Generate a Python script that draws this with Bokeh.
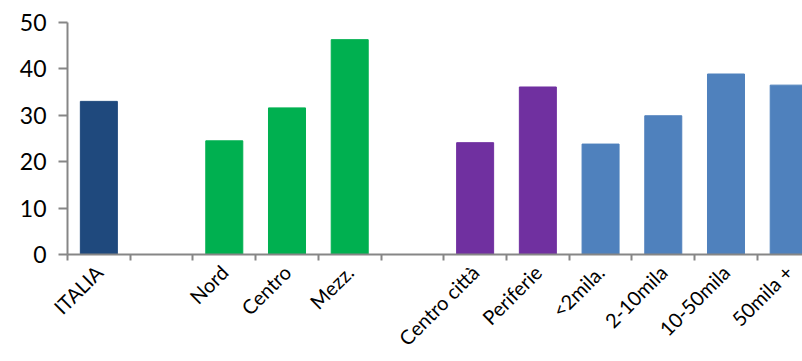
import math
from bokeh.plotting import figure
from bokeh.models import ColumnDataSource, FixedTicker, LinearAxis
from bokeh.embed import file_html
from bokeh.resources import INLINE

# Category slots along the x axis (empty strings are spacer slots)
categories = ["ITALIA", "", "Nord", "Centro", "Mezz.", "",
              "Centro città", "Periferie", "<2mila.", "2-10mila", "10-50mila", "50mila +"]
values = [33.0, None, 24.5, 31.6, 46.3, None, 24.1, 36.1, 23.8, 29.9, 38.9, 36.5]
groups = ["tot", None, "area", "area", "area", None,
          "zona", "zona", "comune", "comune", "comune", "comune"]
group_colors = {"tot": "#1F497D", "area": "#00B050", "zona": "#7030A0", "comune": "#4F81BD"}

xs, tops, cols = [], [], []
for i, (v, g) in enumerate(zip(values, groups)):
    if v is None:
        continue
    xs.append(i + 0.5)
    tops.append(v)
    cols.append(group_colors[g])
src = ColumnDataSource(dict(x=xs, top=tops, color=cols))

p = figure(width=802, height=361, output_backend="svg", toolbar_location=None,
           x_range=(0, 11.72), y_range=(0, 50),
           min_border_left=67, min_border_right=0, min_border_top=22, min_border_bottom=107,
           x_axis_location=None, y_axis_location=None)
p.outline_line_color = None
p.grid.grid_line_color = None
p.background_fill_color = "white"
p.border_fill_color = "white"

p.vbar(x="x", top="top", width=0.59, color="color", source=src)

axis_color = "#868686"
font = "Lato"

yaxis = LinearAxis(ticker=FixedTicker(ticks=[0, 10, 20, 30, 40, 50]))
yaxis.axis_line_color = axis_color
yaxis.axis_line_width = 2
yaxis.major_tick_line_color = axis_color
yaxis.major_tick_line_width = 2
yaxis.major_tick_out = 9
yaxis.major_tick_in = 0
yaxis.minor_tick_line_color = None
yaxis.major_label_text_font = font
yaxis.major_label_text_font_size = "23px"
yaxis.major_label_text_color = "#000000"
yaxis.major_label_standoff = 12
p.add_layout(yaxis, "left")

# x axis: labels at slot centres, tick marks on the slot boundaries
centers = [i + 0.5 for i in range(len(categories))]
bounds = list(range(len(categories) + 1))
xaxis = LinearAxis(ticker=FixedTicker(ticks=centers, minor_ticks=bounds))
xaxis.major_label_overrides = {c: lab for c, lab in zip(centers, categories)}
xaxis.axis_line_color = axis_color
xaxis.axis_line_width = 2
xaxis.major_tick_line_color = None
xaxis.major_tick_out = 0
xaxis.major_tick_in = 0
xaxis.minor_tick_line_color = axis_color
xaxis.minor_tick_line_width = 2
xaxis.minor_tick_out = 6
xaxis.minor_tick_in = 0
xaxis.major_label_orientation = math.pi / 4
xaxis.major_label_text_font = font
xaxis.major_label_text_font_size = "20px"
xaxis.major_label_text_color = "#000000"
xaxis.major_label_standoff = 8
p.add_layout(xaxis, "below")

open("out.html", "w").write(file_html(p, INLINE))
